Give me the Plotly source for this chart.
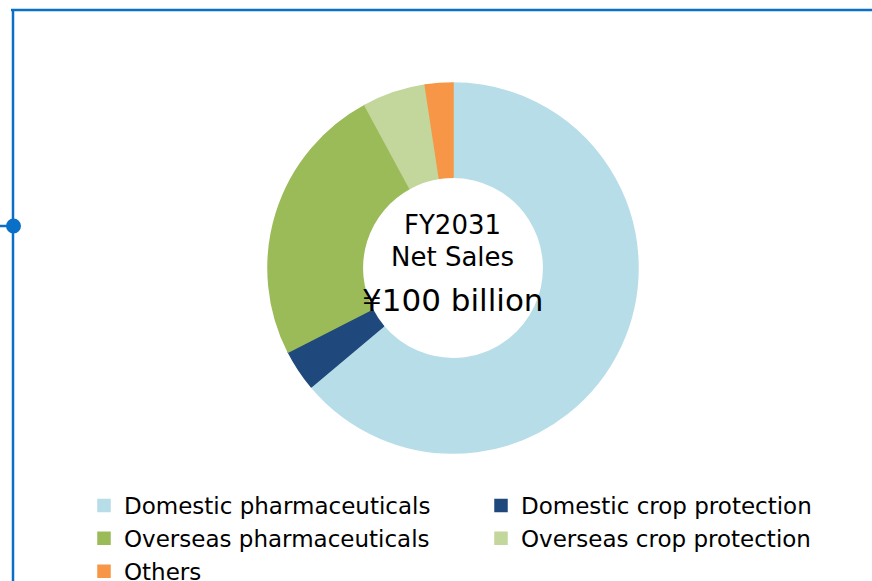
import plotly.graph_objects as go

labels = ["Domestic pharmaceuticals", "Domestic crop protection",
          "Overseas pharmaceuticals", "Overseas crop protection", "Others"]
values = [63.9, 3.6, 24.6, 5.5, 2.4]
colors = ["#B7DDE8", "#1F497D", "#9BBB59", "#C3D69B", "#F79646"]
center_lines = ["FY2031", "Net Sales", "¥100 billion"]

W, H = 872, 581
cx, cy, r = 453, 268, 185

fig = go.Figure(go.Pie(
    labels=labels, values=values, hole=0.49, sort=False,
    direction="clockwise", rotation=0,
    marker=dict(colors=colors, line=dict(color=colors, width=1.5)),
    textinfo="none", hoverinfo="label+percent",
    domain=dict(x=[(cx - r) / W, (cx + r) / W],
                y=[1 - (cy + r) / H, 1 - (cy - r) / H]),
))

font = "DejaVu Sans, Verdana, sans-serif"
for txt, ypx, size in zip(center_lines, [225, 257, 300], [26, 26, 31]):
    fig.add_annotation(text=txt, x=cx / W, y=1 - ypx / H, xref="paper", yref="paper",
                       showarrow=False, xanchor="center", yanchor="middle",
                       font=dict(family=font, size=size, color="#000000"))

blue = "#0A6FC6"
fig.add_shape(type="line", xref="paper", yref="paper", x0=11 / W, x1=1, y0=1 - 10 / H, y1=1 - 10 / H,
              line=dict(color=blue, width=2.5))
fig.add_shape(type="line", xref="paper", yref="paper", x0=13 / W, x1=13 / W, y0=1 - 9 / H, y1=0,
              line=dict(color=blue, width=2.5))
fig.add_shape(type="line", xref="paper", yref="paper", x0=0, x1=13 / W, y0=1 - 226 / H, y1=1 - 226 / H,
              line=dict(color=blue, width=2.5))
fig.add_shape(type="circle", xref="paper", yref="paper", x0=6 / W, x1=21 / W,
              y0=1 - 233.5 / H, y1=1 - 218.5 / H, fillcolor=blue, line=dict(width=0))

fig.update_layout(
    width=W, height=H, autosize=False,
    margin=dict(l=0, r=0, t=0, b=0, autoexpand=False),
    paper_bgcolor="white", plot_bgcolor="white",
    showlegend=True,
    legend=dict(orientation="h", x=84 / W, xanchor="left", y=1 - 484 / H, yanchor="top",
                entrywidth=352, font=dict(family=font, size=23, color="#000000"),
                bgcolor="rgba(0,0,0,0)", traceorder="normal"),
)

fig.write_html("out.html")
